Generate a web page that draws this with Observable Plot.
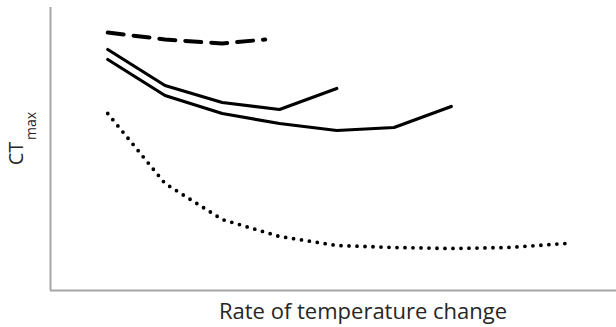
<!DOCTYPE html>
<html>
<head>
<meta charset="utf-8">
<script src="https://cdn.jsdelivr.net/npm/d3@7"></script>
<script src="https://cdn.jsdelivr.net/npm/@observablehq/plot@0.6"></script>
<style>
  html, body { margin: 0; padding: 0; background: #fff; }
  #chart svg { display: block; }
</style>
</head>
<body>
<div id="chart"></div>
<script>
// Rate of temperature change (arbitrary index) vs CTmax (arbitrary units)
const dashedX = [1, 2, 3, 3.75];
const dashedY = [258, 251, 247, 251];

const upperX = [1, 2, 3, 4, 5];
const upperY = [241, 205, 188, 181, 202];

const lowerX = [1, 2, 3, 4, 5, 6, 7];
const lowerY = [231, 195, 177, 167, 160, 163, 184];

const dottedX = [1, 2, 3, 4, 5, 6, 7, 8, 9];
const dottedY = [177, 107, 71, 54, 45, 43, 42, 43, 47];

const xLabel = "Rate of temperature change";
const yLabelMain = "CT";
const yLabelSub = "max";

const toRows = (xs, ys) => xs.map((x, i) => ({x, y: ys[i]}));

const font = "'Open Sans', sans-serif";
const ink = "#000";

const chart = Plot.plot({
  width: 616,
  height: 327,
  marginLeft: 50,
  marginRight: 0,
  marginTop: 7,
  marginBottom: 37,
  style: {fontFamily: font, background: "#fff"},
  x: {domain: [0, 9.886], axis: null},
  y: {domain: [0, 283], axis: null},
  marks: [
    Plot.ruleX([0], {stroke: "#a6a6a6", strokeWidth: 2}),
    Plot.ruleY([0], {stroke: "#a6a6a6", strokeWidth: 2}),
    Plot.line(toRows(dashedX, dashedY), {x: "x", y: "y", stroke: ink, strokeWidth: 4, strokeDasharray: "16,10"}),
    Plot.line(toRows(upperX, upperY), {x: "x", y: "y", stroke: ink, strokeWidth: 3.2, strokeLinejoin: "miter"}),
    Plot.line(toRows(lowerX, lowerY), {x: "x", y: "y", stroke: ink, strokeWidth: 3.2, strokeLinejoin: "miter"}),
    Plot.line(toRows(dottedX, dottedY), {x: "x", y: "y", stroke: ink, strokeWidth: 3.8, strokeDasharray: "0,8", strokeLinecap: "round"}),
    Plot.text([xLabel], {frameAnchor: "bottom", textAnchor: "middle", lineAnchor: "bottom", dx: 29.5, dy: 28, fontSize: 22, fill: "#262626"}),
    Plot.text([yLabelMain], {frameAnchor: "left", rotate: -90, textAnchor: "middle", lineAnchor: "bottom", dx: -27.5, dy: 4.5, fontSize: 20, fill: "#262626"}),
    Plot.text([yLabelSub], {frameAnchor: "left", rotate: -90, textAnchor: "middle", lineAnchor: "bottom", dx: -15, dy: -23, fontSize: 14, fill: "#262626"})
  ]
});
document.getElementById("chart").appendChild(chart);
</script>
</body>
</html>
